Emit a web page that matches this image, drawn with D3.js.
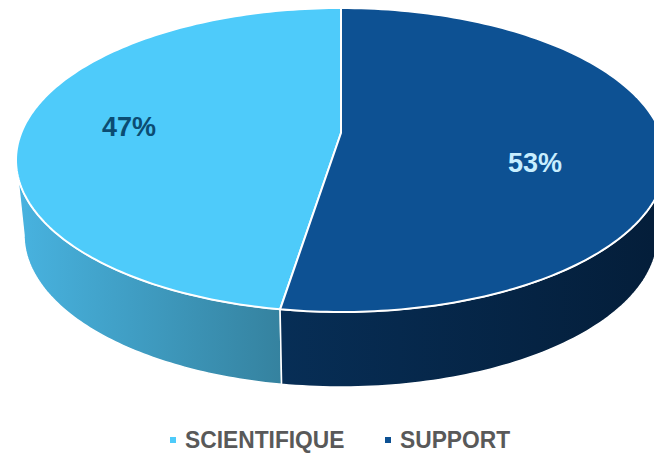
<!DOCTYPE html>
<html><head><meta charset="utf-8">
<script src="https://cdn.jsdelivr.net/npm/d3@7"></script>
<style>html,body{margin:0;padding:0;background:#fff;overflow:hidden}</style>
</head><body>
<svg id="c" width="654" height="454"></svg>
<script>
const categories = ["SCIENTIFIQUE", "SUPPORT"];
const values = [47, 53];
const labels = ["47%", "53%"];

const topColors = ["#4ECBFA", "#0D5193"];
const sideGrad = [["#48B3E0", "#35829F"], ["#072E56", "#041E3A"]];
const labelColors = ["#0B4C72", "#C8EEFF"];

const svg = d3.select("#c");
const W = 654;
const topE = {cx: 341, cy: 160, rx: 325, ry: 152};
const botE = {cx: 341, cy: 235, rx: 317, ry: 152};
const hub = [341, 133];

const pie = d3.pie().sort(null).value(d => d).startAngle(0).endAngle(-2 * Math.PI);
const arcs = pie(values);

function pt(e, a) { return [e.cx + e.rx * Math.sin(a), e.cy - e.ry * Math.cos(a)]; }
function sample(e, a0, a1, n) {
  const out = [];
  for (let i = 0; i <= n; i++) out.push(pt(e, a0 + (a1 - a0) * i / n));
  return out;
}
const line = d3.line();
const defs = svg.append("defs");

// sides
const TAU = 2 * Math.PI;
arcs.forEach((d, i) => {
  let lo = Math.min(d.startAngle, d.endAngle), hi = Math.max(d.startAngle, d.endAngle);
  while (lo < 0) { lo += TAU; hi += TAU; }
  const s = Math.max(lo, Math.PI / 2), e = Math.min(hi, 3 * Math.PI / 2);
  if (e <= s) return;
  const tp = sample(topE, s, e, 80), bp = sample(botE, e, s, 80);
  const xs = tp.concat(bp).map(p => p[0]);
  const g = defs.append("linearGradient").attr("id", "sg" + i)
    .attr("gradientUnits", "userSpaceOnUse")
    .attr("x1", d3.min(xs)).attr("x2", Math.min(d3.max(xs), W)).attr("y1", 0).attr("y2", 0);
  g.append("stop").attr("offset", 0).attr("stop-color", sideGrad[i][0]);
  g.append("stop").attr("offset", 1).attr("stop-color", sideGrad[i][1]);
  svg.append("path").attr("d", line(tp.concat(bp)) + "Z")
    .attr("fill", "url(#sg" + i + ")").attr("stroke", "#fff").attr("stroke-width", 1.5)
    .attr("stroke-linejoin", "round");
});

// top faces
arcs.forEach((d, i) => {
  const pts = [hub].concat(sample(topE, d.startAngle, d.endAngle, 160));
  svg.append("path").attr("d", line(pts) + "Z")
    .attr("fill", topColors[i]).attr("stroke", "#fff").attr("stroke-width", 2)
    .attr("stroke-linejoin", "round");
});

// data labels
const labelPos = [[129, 136], [535, 172]];
arcs.forEach((d, i) => {
  svg.append("text").attr("x", labelPos[i][0]).attr("y", labelPos[i][1])
    .attr("text-anchor", "middle")
    .style("font-family", "'Liberation Sans', Arial, sans-serif")
    .style("font-weight", "bold").style("font-size", "27px")
    .attr("fill", labelColors[i]).text(labels[i]);
});

// legend
const legendX = [170, 385];
categories.forEach((c, i) => {
  svg.append("rect").attr("x", legendX[i]).attr("y", 437).attr("width", 6).attr("height", 6)
    .attr("fill", topColors[i]);
  svg.append("text").attr("transform", `translate(${legendX[i] + 15},448) scale(0.95,1)`)
    .style("font-family", "'Liberation Sans', Arial, sans-serif")
    .style("font-weight", "bold").style("font-size", "24px")
    .attr("fill", "#595959").text(c);
});
</script>
</body></html>
